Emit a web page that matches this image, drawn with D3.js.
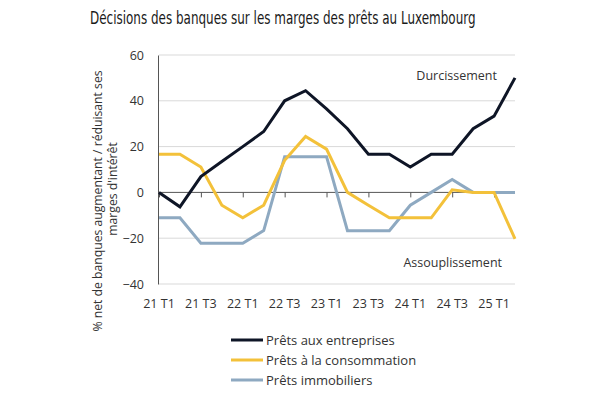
<!DOCTYPE html>
<html>
<head>
<meta charset="utf-8">
<script src="https://cdn.jsdelivr.net/npm/d3@7"></script>
<style>
  body { margin: 0; background: #fff; }
  svg text { font-family: "Open Sans", sans-serif; fill: #333; }
</style>
</head>
<body>
<svg id="chart" width="600" height="394"></svg>
<script>
// quarters 21 T1 .. 25 T2
const quarters = ["21 T1","21 T2","21 T3","21 T4","22 T1","22 T2","22 T3","22 T4",
                  "23 T1","23 T2","23 T3","23 T4","24 T1","24 T2","24 T3","24 T4","25 T1","25 T2"];
const tickLabels = ["21 T1","21 T3","22 T1","22 T3","23 T1","23 T3","24 T1","24 T3","25 T1"];

const entreprises   = [0, -6.3, 6.9, 13.5, 20, 26.6, 40, 44.4, 36.5, 27.8, 16.7, 16.7, 11.1, 16.7, 16.7, 27.8, 33.3, 50];
const consommation  = [16.7, 16.7, 11.1, -5.6, -11.1, -5.6, 14, 24.4, 18.9, 0, -5.6, -11.1, -11.1, -11.1, 1.1, 0, 0, -20.3];
const immobiliers   = [-11.1, -11.1, -22.2, -22.2, -22.2, -16.7, 15.6, 15.6, 15.6, -16.7, -16.7, -16.7, -5.6, 0, 5.6, 0, 0, 0];

const series = [
  { name: "Prêts aux entreprises", values: entreprises, color: "#0e1526" },
  { name: "Prêts à la consommation", values: consommation, color: "#f3c13a" },
  { name: "Prêts immobiliers", values: immobiliers, color: "#8ea9c1" }
];

const svg = d3.select("#chart");

const x = d3.scalePoint().domain(quarters).range([159, 515]);
const y = d3.scaleLinear().domain([-40, 60]).range([284, 55]);

// title: no condensed face installed, so squeeze horizontally
const title = svg.append("text")
  .style("font-family", "'DejaVu Sans', sans-serif")
  .style("font-size", "17px")
  .style("fill", "#1a1a1a")
  .text("Décisions des banques sur les marges des prêts au Luxembourg");
const tw = title.node().getComputedTextLength();
title.attr("transform", "translate(90,24) scale(" + (386 / tw) + ",1)");

// gridlines
svg.append("g").selectAll("line")
  .data([60, 40, 20, -20, -40])
  .enter().append("line")
  .attr("x1", 159).attr("x2", 515)
  .attr("y1", d => y(d)).attr("y2", d => y(d))
  .attr("stroke", "#d9d9d9").attr("stroke-width", 1);

// y axis
const yAxis = svg.append("g")
  .attr("transform", "translate(158,0)")
  .call(d3.axisLeft(y).tickValues([60, 40, 20, 0, -20, -40]).tickSize(0).tickPadding(14));
yAxis.select(".domain").attr("stroke", "#555");
yAxis.selectAll("text").style("font-size", "12.5px").style("font-family", "'Open Sans', sans-serif").attr("fill", "#333");

// zero line with ticks
const xAxis = svg.append("g")
  .attr("transform", "translate(0," + y(0) + ")")
  .call(d3.axisBottom(x).tickValues(tickLabels).tickSize(5).tickFormat(""));
xAxis.select(".domain").attr("stroke", "#555").attr("d", "M158,0H515");
xAxis.selectAll(".tick line").attr("stroke", "#555");

// x labels along bottom
svg.append("g").selectAll("text")
  .data(tickLabels)
  .enter().append("text")
  .attr("x", d => x(d))
  .attr("y", 308)
  .attr("text-anchor", "middle")
  .style("font-size", "12.5px")
  .text(d => d);

// lines
const line = d3.line()
  .x((d, i) => x(quarters[i]))
  .y(d => y(d));

// draw blue, yellow, then black on top
[series[2], series[1], series[0]].forEach(s => {
  svg.append("path")
    .datum(s.values)
    .attr("d", line)
    .attr("fill", "none")
    .attr("stroke", s.color)
    .attr("stroke-width", 3)
    .attr("stroke-linejoin", "miter");
});

// annotations
svg.append("text").attr("x", 497).attr("y", 80).attr("text-anchor", "end")
  .style("font-size", "12.5px").text("Durcissement");
svg.append("text").attr("x", 502).attr("y", 267).attr("text-anchor", "end")
  .style("font-size", "12.5px").text("Assouplissement");

// y axis title
svg.append("text")
  .attr("transform", "translate(102,201) rotate(-90)")
  .attr("text-anchor", "middle")
  .style("font-size", "12.2px")
  .text("% net de banques augmentant / réduisant ses");
svg.append("text")
  .attr("transform", "translate(117,189) rotate(-90)")
  .attr("text-anchor", "middle")
  .style("font-size", "12.2px")
  .text("marges d'intérêt");

// legend
const legend = svg.append("g");
series.forEach((s, i) => {
  const ly = 340 + i * 20;
  legend.append("line")
    .attr("x1", 231).attr("x2", 263)
    .attr("y1", ly).attr("y2", ly)
    .attr("stroke", s.color).attr("stroke-width", 3);
  legend.append("text")
    .attr("x", 266).attr("y", ly + 4.5)
    .style("font-size", "13px")
    .text(s.name);
});
</script>
</body>
</html>
